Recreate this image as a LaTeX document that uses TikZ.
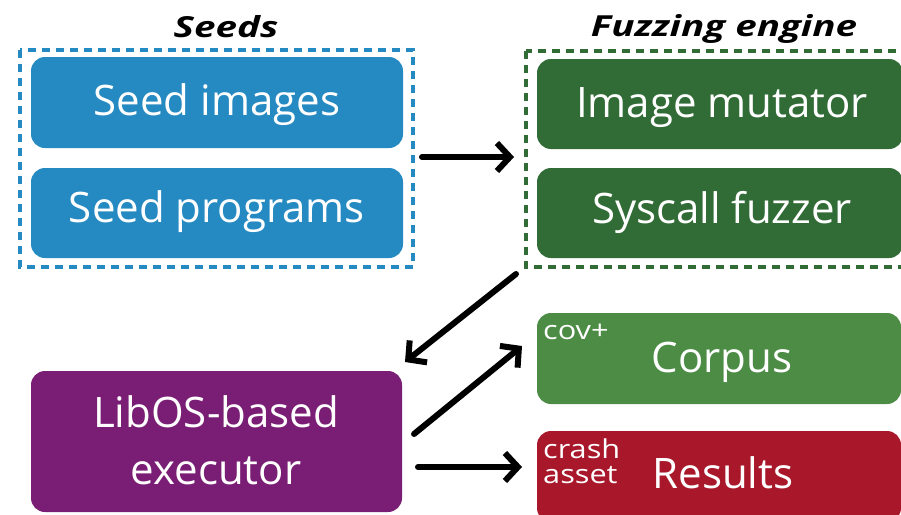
\documentclass[tikz,border=0pt]{standalone}
\usepackage{fontspec}
\setmainfont{Open Sans}
\newfontfamily\headfont[FakeStretch=1.33]{Open Sans}
\newfontfamily\tagfont[FakeStretch=1.18]{Open Sans}
\usetikzlibrary{arrows.meta}
\definecolor{seedblue}{HTML}{2589C2}
\definecolor{engreen}{HTML}{316B36}
\definecolor{corpgreen}{HTML}{4C8C45}
\definecolor{resred}{HTML}{A8182A}
\definecolor{execpurple}{HTML}{7A1D74}
\tikzset{
  box/.style={rounded corners=14pt, inner sep=0pt, draw=none},
  label/.style={inner sep=0pt, anchor=base, text=white, font=\fontsize{42}{46}\selectfont},
  frame/.style={line width=4pt, dash pattern=on 8pt off 6pt},
  title/.style={inner sep=0pt, anchor=base, font=\headfont\fontsize{29}{34}\selectfont\bfseries\itshape},
  tag/.style={inner sep=0pt, anchor=base west, text=white, align=left, font=\tagfont\fontsize{26}{25.5}\selectfont},
  flow/.style={line width=6pt, line cap=round, -{Straight Barb[length=13pt,width=28pt,line width=6pt]}}
}
\begin{document}
\begin{tikzpicture}[x=1pt,y=-1pt]
\useasboundingbox (0,0) rectangle (901,514);
\clip (0,0) rectangle (901,514);

% seed inputs
\node[title] (seedtitle) at (226,37) {Seeds};
\draw[frame, seedblue] (20,50) rectangle (413,267);
\node[box, fill=seedblue, minimum width=372pt, minimum height=91pt] (simg) at (217,102.5) {};
\node[box, fill=seedblue, minimum width=372pt, minimum height=90pt] (sprog) at (217,213) {};
\node[label] (simgtext) at (217,115) {Seed images};
\node[label] (sprogtext) at (217,222) {Seed programs};
\coordinate (seedsout) at (422,157);

% fuzzing engine
\node[title] (fuzztitle) at (724,36) {Fuzzing engine};
\draw[frame, engreen] (526,51) rectangle (915,267);
\coordinate (fuzzin) at (514,157);
\coordinate (fuzzout) at (516,274);
\node[box, fill=engreen, minimum width=366pt, minimum height=90pt] (mut) at (720,104) {};
\node[box, fill=engreen, minimum width=366pt, minimum height=90pt] (sys) at (720,213) {};
\node[label] (muttext) at (722,117) {Image mutator};
\node[label] (systext) at (722,223) {Syscall fuzzer};

% executor
\node[box, fill=execpurple, minimum width=371pt, minimum height=141pt] (exec) at (216.5,441.5) {};
\node[label] (exectext1) at (216,427) {LibOS-based};
\node[label] (exectext2) at (216,484) {executor};

% outputs
\node[box, fill=corpgreen, minimum width=364pt, minimum height=91pt] (corpus) at (719,358.5) {};
\node[box, fill=resred, minimum width=364pt, minimum height=91pt] (results) at (719,476.5) {};
\node[label] (corpustext) at (722,372) {Corpus};
\node[label] (resultstext) at (723,488) {Results};
\node[tag] (cov) at (543,339) {cov+};
\node[tag] (crash) at (543,483.5) {crash\\asset};

% data flow
\draw[flow] (seedsout) -- (fuzzin);
\draw[flow] (fuzzout) -- (405,362);
\draw[flow] (414,434) -- (522,346);
\draw[flow] (418,467) -- (522,467);
\end{tikzpicture}
\end{document}
